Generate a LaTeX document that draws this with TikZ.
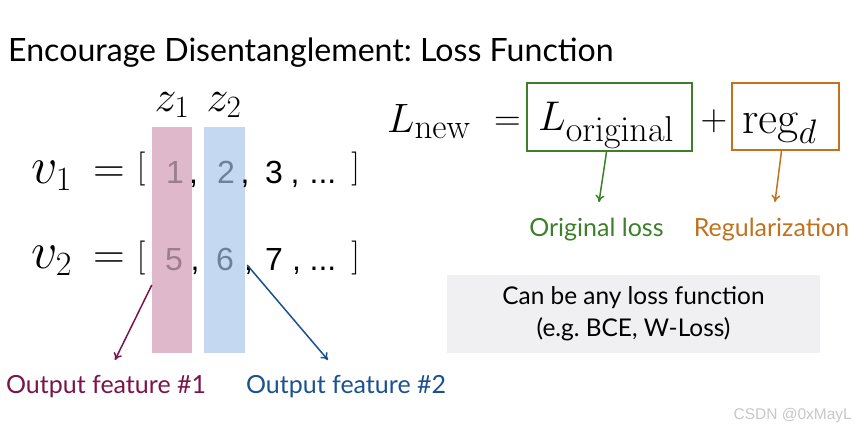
\RequirePackage{fix-cm}
\documentclass[tikz,border=0pt]{standalone}
\usepackage[no-math]{fontspec}
\setmainfont{Lato}
\newfontfamily\digitfont{Liberation Sans}
\usetikzlibrary{arrows.meta, calc, positioning}
\frenchspacing

% Math sizes with large subscripts
\DeclareMathSizes{52}{52}{34}{26}
\DeclareMathSizes{44}{44}{31}{24}
\DeclareMathSizes{41}{41}{35}{27}
\DeclareMathSizes{41.5}{41.5}{36}{28}
\DeclareMathSizes{46}{46}{34}{26}

\definecolor{colpink}{HTML}{DFB8CB}
\definecolor{colblue}{HTML}{C4D9F1}
\definecolor{numpink}{HTML}{9C7E8C}
\definecolor{numblue}{HTML}{6E8296}
\definecolor{featred}{HTML}{7A1548}
\definecolor{featblue}{HTML}{1B5190}
\definecolor{lossgreen}{HTML}{3D7F2A}
\definecolor{regorange}{HTML}{C0721F}
\definecolor{notegray}{HTML}{F0EFF1}

\tikzset{
    txt/.style={anchor=base, inner sep=0pt},
    vecname/.style={txt, anchor=base west, font=\fontsize{52}{58}\selectfont},
    eqsign/.style={txt, font=\fontsize{44}{48}\selectfont},
    bracket/.style={anchor=center, inner sep=0pt, font=\fontsize{34}{38}\selectfont},
    digit/.style={txt, font=\digitfont\fontsize{32}{36}\selectfont},
    label/.style={txt, font=\fontsize{25}{30}\selectfont},
    column/.style={minimum width=40pt, minimum height=226pt, inner sep=0pt},
    lossbox/.style={draw, line width=2pt, inner sep=0pt}
}

\begin{document}
\begin{tikzpicture}[x=1pt, y=-1pt, >={To[length=7pt,width=9pt]}]
    \useasboundingbox (0,0) rectangle (855,428);

    % Title
    \node[txt, anchor=base west, font=\fontsize{32.1}{38}\selectfont] (title) at (8,62)
        {Encourage Disentanglement: Loss Function};

    % Feature columns
    \node[column, fill=colpink] (z1col) at (172,240) {};
    \node[column, fill=colblue, minimum width=41pt] (z2col) at (224.5,240) {};
    \node[txt, font=\fontsize{44}{50}\selectfont] (z1) at (172,111) {$z_1$};
    \node[txt, font=\fontsize{44}{50}\selectfont] (z2) at (224,111) {$z_2$};

    % Row v1
    \node[vecname] (v1) at (31,183) {$v_1$};
    \node[eqsign] (v1eq) at (109,182) {$=$};
    \node[bracket] (v1open) at (141,169) {$[$};
    \node[digit, text=numpink] (a1) at (175,183) {1};
    \node[digit] at (193.5,183) {,};
    \node[digit, text=numblue] (a2) at (226,183) {2};
    \node[digit] at (245,183) {,};
    \node[digit] (a3) at (274,183) {3};
    \node[digit] at (295,183) {,};
    \node[digit] at (323,183) {...};
    \node[bracket] (v1close) at (355.5,169) {$]$};

    % Row v2
    \node[vecname] (v2) at (31,268) {$v_2$};
    \node[eqsign] (v2eq) at (109,268) {$=$};
    \node[bracket] (v2open) at (141,257.5) {$[$};
    \node[digit, text=numpink] (b1) at (174,270) {5};
    \node[digit] at (195,270) {,};
    \node[digit, text=numblue] (b2) at (225,270) {6};
    \node[digit] at (248.5,270) {,};
    \node[digit] (b3) at (274,270) {7};
    \node[digit] at (296.5,270) {,};
    \node[digit] at (323,270) {...};
    \node[bracket] (v2close) at (355.5,257.5) {$]$};

    % Output feature labels
    \node[label, text=featred] (out1) at (106,393) {Output feature \#1};
    \node[label, text=featblue] (out2) at (346,393) {Output feature \#2};
    \coordinate (tip1) at (115,360);
    \coordinate (tip2) at (328,360);
    \draw[->, featred, line width=1.5pt] ($(z1col.west)+(0,45)$) -- (tip1);
    \draw[->, featblue, line width=1.5pt] ($(z2col.east)+(2,25)$) -- (tip2);

    % Loss equation
    \node[txt, anchor=base west, font=\fontsize{41}{46}\selectfont] (lnew) at (387,132) {$L_{\mathrm{new}}$};
    \node[txt, font=\fontsize{37}{42}\selectfont] (leq) at (507.5,131) {$=$};
    \node[lossbox, draw=lossgreen, minimum width=165pt, minimum height=68pt] (lorig) at (609.5,117) {};
    \node[txt, anchor=base west, font=\fontsize{41.5}{46}\selectfont] at (538,131) {$L_{\mathrm{original}}$};
    \node[txt, font=\fontsize{37}{42}\selectfont] (plus) at (714,131) {$+$};
    \node[lossbox, draw=regorange, minimum width=107pt, minimum height=67pt] (reg) at (785.5,116.5) {};
    \node[txt, anchor=base west, font=\fontsize{46}{52}\selectfont] at (742,133) {$\mathrm{reg}_d$};

    % Loss labels
    \node[label, text=lossgreen] (origlab) at (596.5,236) {Original loss};
    \node[label, text=regorange] (reglab) at (771.5,236) {Regularization};
    \coordinate (tip3) at (599,202);
    \coordinate (tip4) at (775,202);
    \draw[->, lossgreen, line width=1.5pt] ($(lorig.south)+(-3,0)$) -- (tip3);
    \draw[->, regorange, line width=1.5pt] ($(reg.south)+(-4,0)$) -- (tip4);

    % Note box
    \node[fill=notegray, minimum width=373pt, minimum height=78pt, inner sep=0pt,
          align=center, font=\fontsize{24.4}{32}\selectfont] (note) at (633.5,314)
        {Can be any loss function\\(e.g. BCE, W-Loss)};

    % Watermark
    \node[txt, anchor=base east, text=black!22, font=\digitfont\fontsize{15.5}{18}\selectfont]
        (mark) at (852,419) {CSDN @0xMayL};
\end{tikzpicture}
\end{document}
